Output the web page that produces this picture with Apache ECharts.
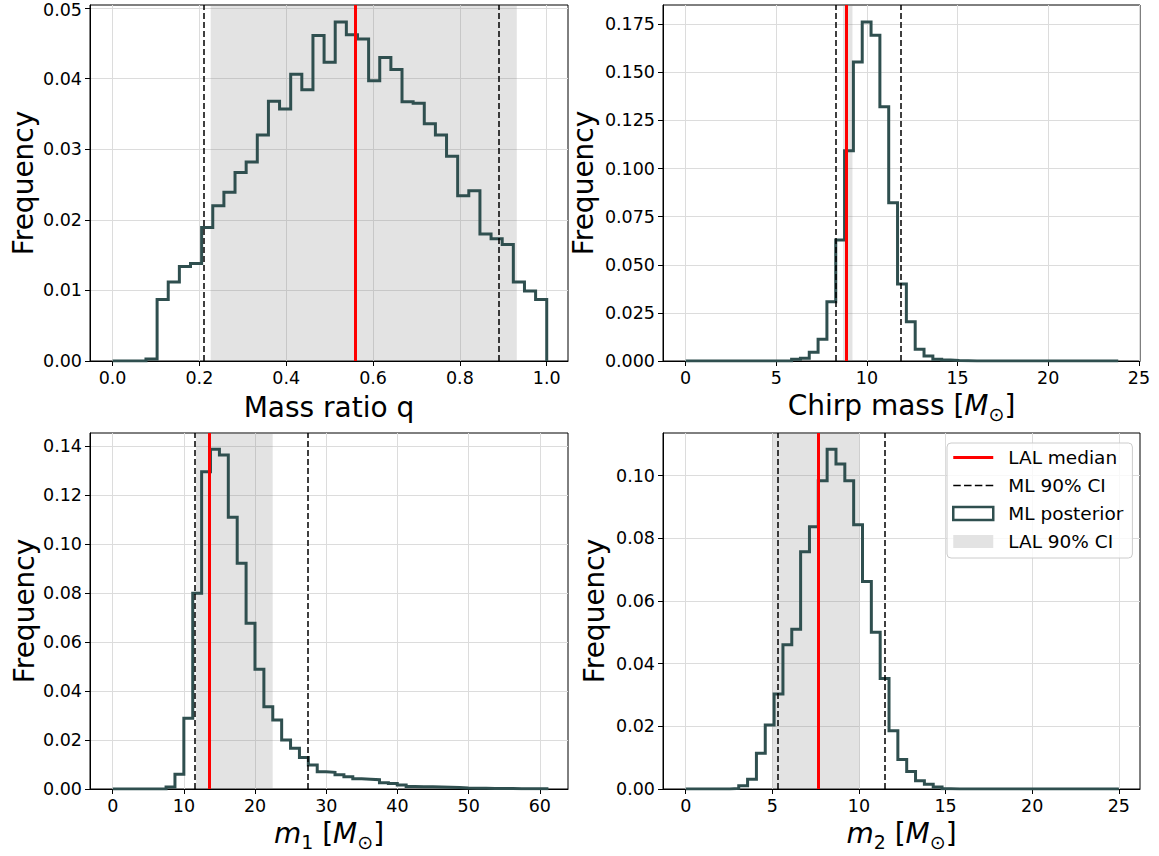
<!DOCTYPE html>
<html><head><meta charset="utf-8">
<script src="https://cdn.jsdelivr.net/npm/echarts@6/dist/echarts.min.js"></script>
<style>html,body{margin:0;padding:0;background:#fff}#c{width:1159px;height:856px}</style>
</head><body><div id="c"></div>
<script>
// ---------------- data ----------------
// Panel 1: mass ratio q  (39 equal bins from 0 to qBinMax)
const qBinMax = 1.0;
const qFreq = [0, 0, 0, 0.0003, 0.0087, 0.0112, 0.0134, 0.0138, 0.0189, 0.0220,
  0.0239, 0.0267, 0.0282, 0.0320, 0.0368, 0.0357, 0.0406, 0.0384, 0.0461, 0.0423,
  0.0480, 0.0462, 0.0456, 0.0397, 0.0430, 0.0413, 0.0367, 0.0365, 0.0336, 0.0320,
  0.0290, 0.0234, 0.0241, 0.0180, 0.0173, 0.0165, 0.0112, 0.0099, 0.0087];
const qLalMedian = 0.561;
const qMlCI = [0.207, 0.888];
const qLalCI = [0.226, 0.931];
const qXTicks = [0, 0.2, 0.4, 0.6, 0.8, 1.0];
const qYTicks = [0, 0.01, 0.02, 0.03, 0.04, 0.05];

// Panel 2: chirp mass (49 equal bins from 0 to chirpBinMax)
const chirpBinMax = 23.86;
const chirpFreq = [0, 0, 0, 0, 0, 0, 0, 0, 0, 0,
  0, 0, 0.0009, 0.0014, 0.0045, 0.0113, 0.0308, 0.0629, 0.1093, 0.1554,
  0.1762, 0.1693, 0.1322, 0.0823, 0.0400, 0.0204, 0.0061, 0.0026, 0.0009, 0.0005,
  0.0002, 0.0001, 0, 0, 0, 0, 0, 0, 0, 0,
  0, 0, 0, 0, 0, 0, 0, 0, 0];
const chirpLalMedian = 8.84;
const chirpMlCI = [8.29, 11.86];
const chirpLalCI = [8.68, 9.2];
const chirpXTicks = [0, 5, 10, 15, 20, 25];
const chirpYTicks = [0, 0.025, 0.05, 0.075, 0.1, 0.125, 0.15, 0.175];

// Panel 3: m1 (49 equal bins from 0 to m1BinMax)
const m1BinMax = 61.2;
const m1Freq = [0, 0, 0, 0, 0, 0, 0.0008, 0.0060, 0.0289, 0.0799,
  0.1295, 0.1387, 0.1363, 0.1109, 0.0921, 0.0676, 0.0489, 0.0336, 0.0282, 0.0200,
  0.0166, 0.0129, 0.0098, 0.0070, 0.0068, 0.0058, 0.0050, 0.0042, 0.0040, 0.0038,
  0.0025, 0.0022, 0.0016, 0.0010, 0.0009, 0.0009, 0.0008, 0.0007, 0.0006, 0.0004,
  0.0003, 0.0003, 0.0002, 0.0002, 0.0002, 0.0001, 0.0001, 0.0001, 0.0001];
const m1LalMedian = 13.57;
const m1MlCI = [11.46, 27.33];
const m1LalCI = [11.7, 22.47];
const m1XTicks = [0, 10, 20, 30, 40, 50, 60];
const m1YTicks = [0, 0.02, 0.04, 0.06, 0.08, 0.10, 0.12, 0.14];

// Panel 4: m2 (49 equal bins from 0 to m2BinMax)
const m2BinMax = 25;
const m2Freq = [0, 0, 0, 0, 0, 0.0002, 0.0010, 0.0031, 0.0114, 0.0204,
  0.0303, 0.0460, 0.0510, 0.0757, 0.0837, 0.0984, 0.1084, 0.1037, 0.0984, 0.0843,
  0.0662, 0.0500, 0.0353, 0.0186, 0.0094, 0.0056, 0.0026, 0.0015, 0.0006, 0.0001,
  0, 0, 0, 0, 0, 0, 0, 0, 0, 0,
  0, 0, 0, 0, 0, 0, 0, 0, 0];
const m2LalMedian = 7.65;
const m2MlCI = [5.33, 11.48];
const m2LalCI = [5.0, 10.04];
const m2XTicks = [0, 5, 10, 15, 20, 25];
const m2YTicks = [0, 0.02, 0.04, 0.06, 0.08, 0.10];

const legendNames = ['LAL median', 'ML 90% CI', 'ML posterior', 'LAL 90% CI'];

// ---------------- layout / style ----------------
const FONT = 'DejaVu Sans';
const TICK_FS = 17.5;
const NAME_FS = 28;
const STEP_COLOR = '#2f4f4f';

const panels = [
  { grid: {left: 90, top: 5, width: 478, height: 356}, xr: [-0.052, 1.049], ymax: 0.05042,
    binMax: qBinMax, freq: qFreq, med: qLalMedian, ml: qMlCI, lal: qLalCI,
    xt: qXTicks, yt: qYTicks, xd: 1, yd: 2, xname: 'Mass ratio q', xgap: 29, ygap: 53 },
  { grid: {left: 663, top: 5, width: 477, height: 356}, xr: [-1.25, 25.06], ymax: 0.18503,
    binMax: chirpBinMax, freq: chirpFreq, med: chirpLalMedian, ml: chirpMlCI, lal: chirpLalCI,
    xt: chirpXTicks, yt: chirpYTicks, xd: 0, yd: 3, xname: 'Chirp mass [{it|M}{sub|⊙}]', xgap: 27, ygap: 66 },
  { grid: {left: 90, top: 433, width: 478, height: 356}, xr: [-3.19, 63.95], ymax: 0.1453,
    binMax: m1BinMax, freq: m1Freq, med: m1LalMedian, ml: m1MlCI, lal: m1LalCI,
    xt: m1XTicks, yt: m1YTicks, xd: 0, yd: 2, xname: '{it|m}{sub|1} [{it|M}{sub|⊙}]', xgap: 27, ygap: 52 },
  { grid: {left: 663, top: 433, width: 477, height: 356}, xr: [-1.31, 26.22], ymax: 0.1136,
    binMax: m2BinMax, freq: m2Freq, med: m2LalMedian, ml: m2MlCI, lal: m2LalCI,
    xt: m2XTicks, yt: m2YTicks, xd: 0, yd: 2, xname: '{it|m}{sub|2} [{it|M}{sub|⊙}]', xgap: 27, ygap: 55 }
];

function stepPoints(binMax, freq) {
  const w = binMax / freq.length;
  const pts = [[0, 0]];
  freq.forEach((f, i) => { pts.push([i * w, f], [(i + 1) * w, f]); });
  pts.push([binMax, 0]);
  return pts;
}

const nameRich = {
  it: {fontFamily: FONT, fontStyle: 'italic', fontSize: NAME_FS, lineHeight: 34, color: '#000'},
  sub: {fontFamily: FONT, fontSize: 19, lineHeight: 34, padding: [17, 0, 0, 0], color: '#000'}
};
// y tick label style; the label sitting on the very top edge is nudged down slightly
const yLabelRich = {
  top: {fontFamily: FONT, fontSize: TICK_FS, color: '#000', padding: [5, 0, 0, 0]}
};

const grids = [], xAxes = [], yAxes = [], series = [];
panels.forEach((p, i) => {
  grids.push(Object.assign({show: true, borderColor: '#000', borderWidth: 1,
    backgroundColor: 'transparent', containLabel: false, outerBoundsMode: 'none'}, p.grid));
  xAxes.push({
    type: 'value', gridIndex: i, min: p.xr[0], max: p.xr[1],
    axisLine: {show: true, onZero: false, lineStyle: {color: '#000', width: 1}},
    axisTick: {show: true, length: 5, customValues: p.xt, lineStyle: {color: '#000', width: 1}},
    axisLabel: {customValues: p.xt, margin: 8, fontFamily: FONT, fontSize: TICK_FS, color: '#000',
      formatter: v => v.toFixed(p.xd)},
    splitLine: {show: true, lineStyle: {color: '#dcdcdc', width: 1}},
    name: p.xname, nameLocation: 'middle', nameGap: p.xgap,
    nameTextStyle: {fontFamily: FONT, fontSize: NAME_FS, color: '#000', lineHeight: 34, rich: nameRich}
  });
  const topPx = p.grid.top;
  yAxes.push({
    type: 'value', gridIndex: i, min: 0, max: p.ymax,
    axisLine: {show: true, onZero: false, lineStyle: {color: '#000', width: 1}},
    axisTick: {show: true, length: 5, customValues: p.yt, lineStyle: {color: '#000', width: 1}},
    axisLabel: {customValues: p.yt, margin: 8, fontFamily: FONT, fontSize: TICK_FS, color: '#000',
      rich: yLabelRich,
      formatter: v => {
        const s = v.toFixed(p.yd);
        // only the label that would touch the page's top edge gets the nudge
        return (topPx < 10 && Math.abs(v - p.yt[p.yt.length - 1]) < 1e-9 && p.ymax - v < 0.003) ? '{top|' + s + '}' : s;
      }},
    splitLine: {show: true, lineStyle: {color: '#dcdcdc', width: 1}},
    name: 'Frequency', nameLocation: 'middle', nameGap: p.ygap,
    nameTextStyle: {fontFamily: FONT, fontSize: NAME_FS, color: '#000'}
  });
  series.push({
    name: 'LAL 90% CI', type: 'line', xAxisIndex: i, yAxisIndex: i, data: [], z: 1,
    itemStyle: {color: '#e3e3e3'},
    markArea: {silent: true, itemStyle: {color: 'rgba(128,128,128,0.22)'},
      data: [[{xAxis: p.lal[0]}, {xAxis: p.lal[1]}]]}
  });
  series.push({
    name: 'ML posterior', type: 'line', xAxisIndex: i, yAxisIndex: i, z: 3,
    data: stepPoints(p.binMax, p.freq), symbol: 'none', showSymbol: false,
    lineStyle: {color: STEP_COLOR, width: 3, join: 'miter'}, itemStyle: {color: STEP_COLOR}
  });
  series.push({
    name: 'ML 90% CI', type: 'line', xAxisIndex: i, yAxisIndex: i, data: [], z: 4,
    itemStyle: {color: '#000'},
    markLine: {silent: true, symbol: ['none', 'none'], label: {show: false},
      lineStyle: {color: '#000', width: 1.5, type: [6, 3]},
      data: p.ml.map(v => ({xAxis: v}))}
  });
  series.push({
    name: 'LAL median', type: 'line', xAxisIndex: i, yAxisIndex: i, data: [], z: 5,
    itemStyle: {color: '#ff0000'},
    markLine: {silent: true, symbol: ['none', 'none'], label: {show: false},
      lineStyle: {color: '#ff0000', width: 3, type: 'solid'},
      data: [{xAxis: p.med}]}
  });
});

const chart = echarts.init(document.getElementById('c'), null, {renderer: 'svg'});
chart.setOption({
  animation: false,
  backgroundColor: '#ffffff',
  grid: grids, xAxis: xAxes, yAxis: yAxes, series: series,
  legend: {
    orient: 'vertical', left: 947, top: 443, padding: [5, 9, 7, 5], itemGap: 9,
    itemWidth: 40, itemHeight: 13, selectedMode: false,
    backgroundColor: 'rgba(255,255,255,0.8)', borderColor: '#cccccc', borderWidth: 1, borderRadius: 4,
    textStyle: {fontFamily: FONT, fontSize: 18.5, color: '#000', padding: [0, 0, 0, 10]},
    data: [
      {name: legendNames[0], icon: 'path://M0,0M40,13M0,5H40V8H0Z', itemStyle: {color: '#ff0000', borderWidth: 0}},
      {name: legendNames[1], icon: 'path://M0,0M40,13M0,5.75h7.5v1.5h-7.5zM10.8,5.75h7.5v1.5h-7.5zM21.6,5.75h7.5v1.5h-7.5zM32.4,5.75h7.6v1.5h-7.6z', itemStyle: {color: '#000', borderWidth: 0}},
      {name: legendNames[2], icon: 'rect', itemStyle: {color: '#ffffff', borderColor: STEP_COLOR, borderWidth: 2.5}},
      {name: legendNames[3], icon: 'rect', itemStyle: {color: '#e3e3e3', borderWidth: 0}}
    ]
  }
});
</script>
</body></html>
